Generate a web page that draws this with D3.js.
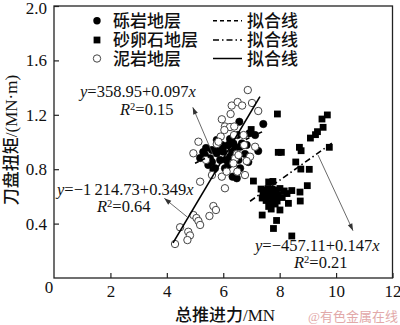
<!DOCTYPE html>
<html>
<head>
<meta charset="utf-8">
<script src="https://cdn.jsdelivr.net/npm/d3@7/dist/d3.min.js"></script>
<style>
  html, body { margin: 0; padding: 0; background: #fff; }
  svg { display: block; }
  text { font-family: "Liberation Serif", "Times New Roman", "Noto Sans CJK SC", serif; fill: #111; }
  .cjk { font-weight: 500; }
</style>
</head>
<body>
<svg id="chart" width="400" height="325"></svg>
<script>
// Thrust (MN) vs cutterhead torque (MN·m) by stratum
const gravelX = [6.57, 7.42, 7.13, 6.93, 6.51, 6.36, 6.60, 6.00, 5.83, 7.24, 5.29, 5.77, 5.95, 6.18, 6.42, 5.35, 5.53, 5.77, 6.00, 6.24, 6.66, 6.83, 5.89, 5.47, 5.71, 6.18, 6.06, 6.54, 6.60, 6.48, 6.33, 6.89, 5.60, 5.18, 6.10, 6.31, 5.60, 5.65, 6.24, 5.39, 6.77];
const gravelY = [1.149, 1.132, 1.051, 1.064, 1.051, 0.990, 0.965, 0.965, 0.954, 0.934, 0.926, 1.015, 0.978, 0.978, 0.954, 0.904, 0.880, 0.917, 0.929, 0.892, 0.990, 0.978, 0.868, 0.831, 0.807, 0.831, 0.807, 0.868, 0.807, 0.733, 0.745, 0.853, 0.941, 0.882, 0.868, 0.926, 0.853, 0.794, 1.022, 0.956, 0.912];

const pebbleX = [6.99, 7.92, 9.69, 9.50, 9.54, 9.34, 9.27, 9.09, 9.76, 8.70, 8.76, 7.95, 8.06, 8.57, 8.75, 9.05, 7.07, 7.61, 7.76, 8.98, 8.43, 8.72, 8.73, 8.31, 8.01, 7.38, 7.89, 7.78, 8.43, 7.34, 7.48, 7.59, 7.73, 7.87, 8.01, 8.16, 8.26, 7.41, 7.55, 7.68, 7.80, 7.94, 8.09, 7.52, 7.64, 7.75, 7.84, 7.61, 7.70, 7.91, 7.38];
const pebbleY = [1.092, 1.206, 1.199, 1.169, 1.108, 1.076, 1.054, 1.029, 0.961, 0.961, 0.936, 0.924, 0.924, 0.853, 0.801, 0.799, 0.713, 0.706, 0.710, 0.679, 0.643, 0.632, 0.566, 0.549, 0.500, 0.463, 0.423, 0.364, 0.309, 0.654, 0.647, 0.658, 0.654, 0.647, 0.658, 0.640, 0.621, 0.618, 0.603, 0.618, 0.603, 0.610, 0.592, 0.570, 0.555, 0.577, 0.544, 0.526, 0.507, 0.566, 0.588];

const mudX = [6.87, 6.30, 6.51, 6.67, 7.02, 7.24, 6.26, 5.95, 6.06, 6.24, 6.39, 5.91, 6.38, 5.77, 6.48, 6.95, 7.13, 5.12, 4.94, 5.83, 6.42, 6.54, 6.36, 6.77, 5.95, 5.18, 6.06, 6.12, 6.50, 5.65, 5.74, 5.51, 4.94, 5.05, 5.12, 5.18, 4.47, 4.76, 4.82, 4.73, 4.29, 6.72, 6.74, 6.83, 6.04, 5.39, 5.60];
const mudY = [1.382, 1.268, 1.294, 1.268, 1.287, 1.228, 1.206, 1.167, 1.114, 1.110, 1.114, 1.040, 1.051, 0.985, 0.912, 0.892, 0.965, 1.002, 0.917, 1.002, 0.880, 0.904, 0.843, 0.757, 0.745, 0.708, 0.660, 0.782, 0.782, 0.529, 0.500, 0.456, 0.463, 0.441, 0.419, 0.390, 0.373, 0.340, 0.313, 0.279, 0.250, 1.051, 0.978, 0.860, 1.088, 0.868, 0.757];

// Linear fits (thrust in MN, torque in MN·m)
const fitIntercepts = [0.35895, -0.45711, -1.21473];
const fitSlopes = [0.097, 0.147, 0.349];
const fitRanges = [[5.0, 7.4], [6.95, 9.85], [4.22, 7.3]];
const fitDash = ["4,3", "6,3,1.5,3", null];

const seriesNames = ["砾岩地层", "砂卵石地层", "泥岩地层"];
const fitName = "拟合线";

const xTicks = [2, 4, 6, 8, 10, 12];
const yTicks = [0.4, 0.8, 1.2, 1.6, 2.0];

const svg = d3.select("#chart");
const x = d3.scaleLinear().domain([0, 12]).range([54, 392.5]);
const y = d3.scaleLinear().domain([0, 2]).range([278, 6]);

// arrowhead marker
svg.append("defs").append("marker")
  .attr("id", "arr").attr("viewBox", "0 0 10 10")
  .attr("refX", 10).attr("refY", 5)
  .attr("markerWidth", 9).attr("markerHeight", 7)
  .attr("markerUnits", "userSpaceOnUse")
  .attr("orient", "auto")
  .append("path").attr("d", "M0,1.5 L10,5 L0,8.5 Z").attr("fill", "#333");

// axes with inward ticks
const gx = svg.append("g").attr("transform", "translate(0,278)")
  .call(d3.axisBottom(x).tickValues(xTicks).tickSize(-5).tickPadding(7).tickFormat(d3.format("d")));
const gy = svg.append("g").attr("transform", "translate(54,0)")
  .call(d3.axisLeft(y).tickValues(yTicks).tickSize(-5).tickPadding(7).tickFormat(d3.format(".1f")));
[gx, gy].forEach(g => {
  g.select(".domain").remove();
  g.selectAll(".tick line").attr("stroke", "#222").attr("stroke-width", 1.2);
  g.selectAll(".tick text").attr("font-size", 17).attr("fill", "#111")
    .style("font-family", "'Liberation Serif', serif");
});
gy.selectAll(".tick text").filter(d => d === 2).attr("dy", "0.45em");
svg.append("text").attr("x", 49).attr("y", 286.7).attr("dy", "0.35em")
  .attr("text-anchor", "middle").attr("font-size", 17).text("0");

// frame
svg.append("rect").attr("x", x(0)).attr("y", y(2)).attr("width", x(12) - x(0)).attr("height", y(0) - y(2))
  .attr("fill", "none").attr("stroke", "#222").attr("stroke-width", 1.3);

// axis titles
svg.append("text").attr("class", "cjk").attr("x", 225).attr("y", 321).attr("text-anchor", "middle").attr("font-size", 17)
  .text("总推进力/MN");
svg.append("text").attr("class", "cjk").attr("transform", "translate(11,140) rotate(-90)").attr("text-anchor", "middle")
  .attr("dy", "0.35em").attr("font-size", 17)
  .text("刀盘扭矩/(MN·m)");

// points
const plot = svg.append("g");
plot.selectAll(".g").data(d3.zip(gravelX, gravelY)).join("circle")
  .attr("cx", d => x(d[0])).attr("cy", d => y(d[1])).attr("r", 3.7)
  .attr("fill", "#000").attr("stroke", "#000").attr("stroke-width", 0.6);
plot.selectAll(".m").data(d3.zip(mudX, mudY)).join("circle")
  .attr("cx", d => x(d[0])).attr("cy", d => y(d[1])).attr("r", 3.7)
  .attr("fill", "#fff").attr("stroke", "#444").attr("stroke-width", 1);
plot.selectAll(".p").data(d3.zip(pebbleX, pebbleY)).join("rect")
  .attr("x", d => x(d[0]) - 3.4).attr("y", d => y(d[1]) - 3.4).attr("width", 6.8).attr("height", 6.8)
  .attr("fill", "#000");

// fit lines
fitIntercepts.forEach((b, i) => {
  const [x0, x1] = fitRanges[i];
  svg.append("line")
    .attr("x1", x(x0)).attr("y1", y(b + fitSlopes[i] * x0))
    .attr("x2", x(x1)).attr("y2", y(b + fitSlopes[i] * x1))
    .attr("stroke", "#000").attr("stroke-width", 1.6)
    .attr("stroke-dasharray", fitDash[i]);
});

// annotation arrows (data coordinates: from fit line to label)
const arrows = [
  [[5.67, 0.89], [4.92, 1.255]],
  [[4.72, 0.449], [3.91, 0.586]],
  [[9.36, 0.904], [10.60, 0.348]]
];
arrows.forEach(a => {
  svg.append("line")
    .attr("x1", x(a[0][0])).attr("y1", y(a[0][1]))
    .attr("x2", x(a[1][0])).attr("y2", y(a[1][1]))
    .attr("stroke", "#444").attr("stroke-width", 0.8)
    .attr("marker-end", "url(#arr)");
});

// equation labels
const eqSize = 16.5;
function equation(xp, yp, a, b) {
  const t = svg.append("text").attr("x", xp).attr("y", yp).attr("font-size", eqSize);
  t.append("tspan").attr("font-style", "italic").text("y");
  t.append("tspan").text("=" + a + "+" + b);
  t.append("tspan").attr("font-style", "italic").text("x");
}
function rsq(xp, yp, v) {
  const t = svg.append("text").attr("x", xp).attr("y", yp).attr("font-size", eqSize);
  t.append("tspan").attr("font-style", "italic").text("R");
  t.append("tspan").attr("font-size", 10.5).attr("dy", -5).text("2");
  t.append("tspan").attr("dy", 5).text("=" + v);
}
equation(80, 96.5, "358.95", "0.097");
rsq(120, 114.8, "0.15");
equation(57, 194.5, "\u22121\u2009214.73", "0.349");
rsq(97, 212, "0.64");
equation(255, 250.5, "\u2212457.11", "0.147");
rsq(294, 268.3, "0.21");

// legend: markers
const legY = [20.7, 40, 58.5];
svg.append("circle").attr("cx", 97).attr("cy", legY[0]).attr("r", 3.7).attr("fill", "#000");
svg.append("rect").attr("x", 97 - 3.4).attr("y", legY[1] - 3.4).attr("width", 6.8).attr("height", 6.8).attr("fill", "#000");
svg.append("circle").attr("cx", 97).attr("cy", legY[2]).attr("r", 3.7).attr("fill", "#fff").attr("stroke", "#444").attr("stroke-width", 1);
seriesNames.forEach((n, i) => {
  svg.append("text").attr("class", "cjk").attr("x", 113).attr("y", legY[i]).attr("dy", "0.36em").attr("font-size", 17).text(n);
});
// legend: fit lines
fitDash.forEach((d, i) => {
  svg.append("line").attr("x1", 213).attr("x2", 242).attr("y1", legY[i]).attr("y2", legY[i])
    .attr("stroke", "#000").attr("stroke-width", 1.5).attr("stroke-dasharray", d);
  svg.append("text").attr("class", "cjk").attr("x", 247).attr("y", legY[i]).attr("dy", "0.36em").attr("font-size", 17).text(fitName);
});

// watermark
svg.append("text").attr("x", 398).attr("y", 321).attr("text-anchor", "end").attr("font-size", 13)
  .style("fill", "#e2a9a9").text("@有色金属在线");
</script>
</body>
</html>
